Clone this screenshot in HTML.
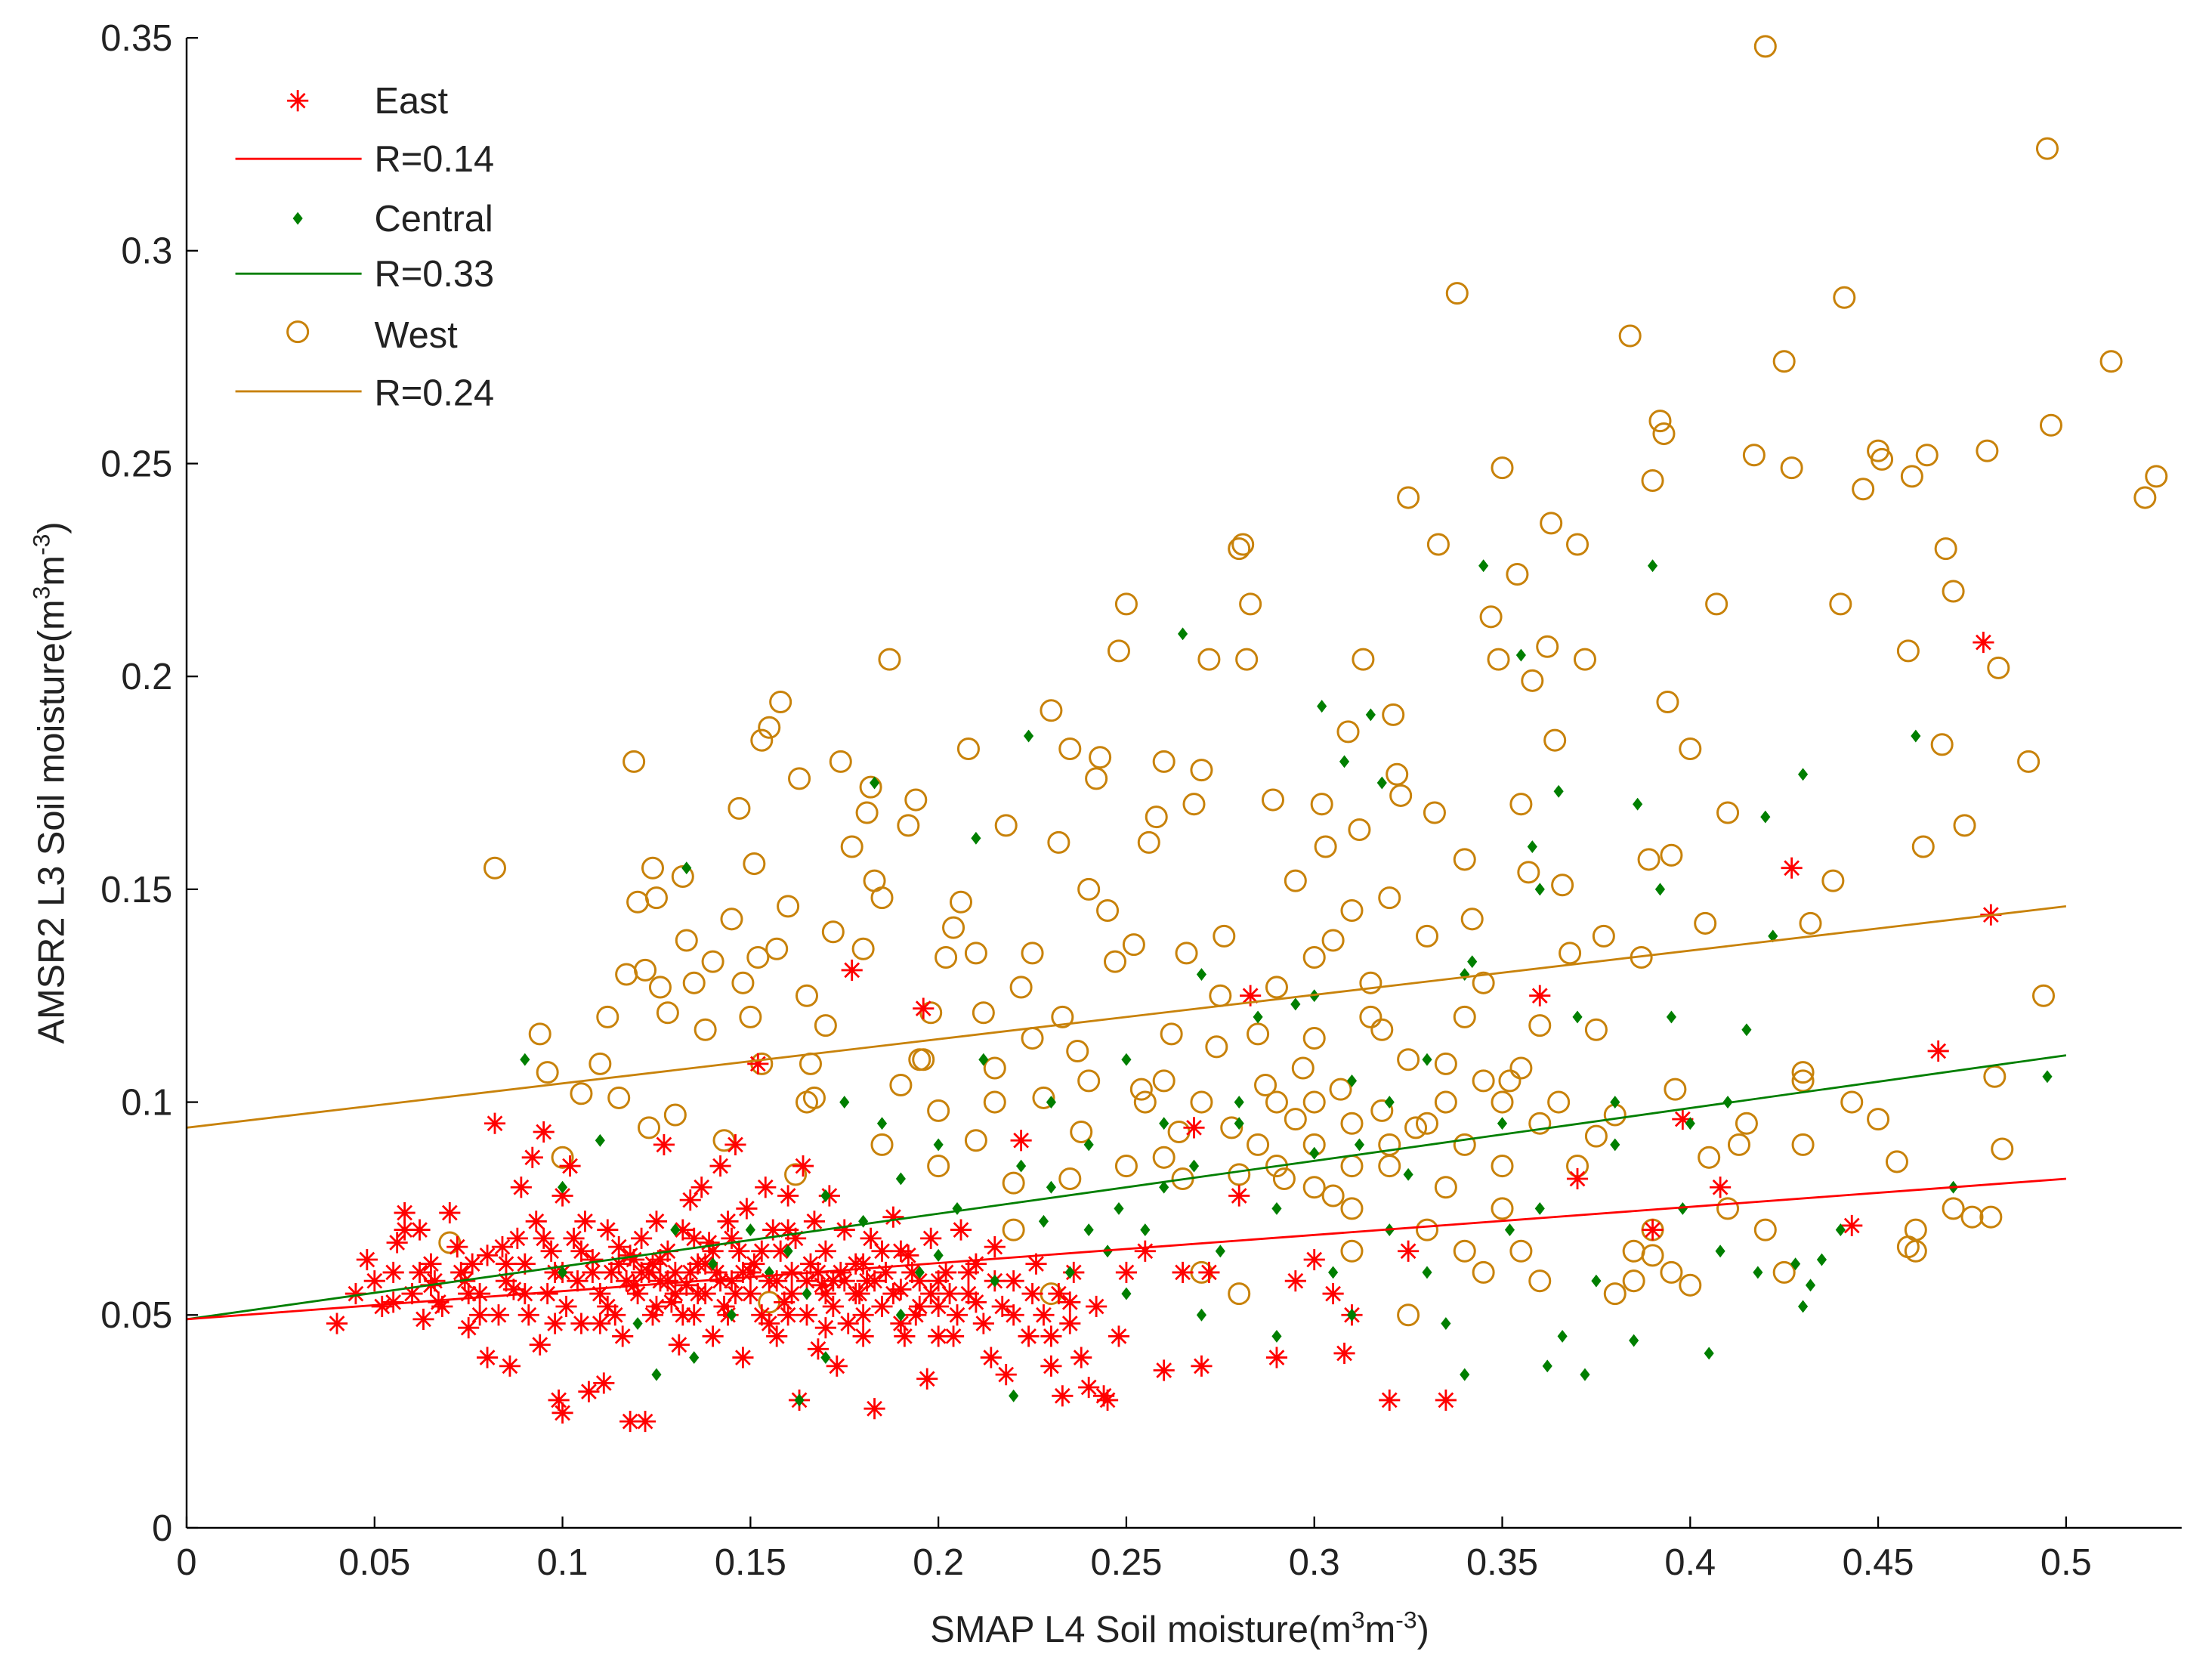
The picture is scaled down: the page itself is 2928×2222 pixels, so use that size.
<!DOCTYPE html>
<html><head><meta charset="utf-8"><style>
html,body{margin:0;padding:0;background:#fff;}
svg{display:block;}
text{font-family:"Liberation Sans",Arial,sans-serif;fill:#222;}
</style></head><body>
<svg id="chart" width="2928" height="2222" viewBox="0 0 1560 1184" preserveAspectRatio="none" xmlns="http://www.w3.org/2000/svg">
<g id="marks"></g>
<g id="axes"></g>
</svg>
<script>
const xTicks=[0,0.05,0.1,0.15,0.2,0.25,0.3,0.35,0.4,0.45,0.5];
const xTickLabels=["0","0.05","0.1","0.15","0.2","0.25","0.3","0.35","0.4","0.45","0.5"];
const yTicks=[0,0.05,0.1,0.15,0.2,0.25,0.3,0.35];
const yTickLabels=["0","0.05","0.1","0.15","0.2","0.25","0.3","0.35"];
const westPts=[[0.082,0.155],[0.094,0.116],[0.096,0.107],[0.1,0.087],[0.105,0.102],[0.11,0.109],[0.112,0.12],[0.115,0.101],[0.117,0.13],[0.119,0.18],[0.12,0.147],[0.122,0.131],[0.123,0.094],[0.124,0.155],[0.125,0.148],[0.126,0.127],[0.128,0.121],[0.13,0.097],[0.132,0.153],[0.133,0.138],[0.135,0.128],[0.138,0.117],[0.14,0.133],[0.143,0.091],[0.145,0.143],[0.147,0.169],[0.148,0.128],[0.15,0.12],[0.151,0.156],[0.152,0.134],[0.153,0.109],[0.153,0.185],[0.155,0.188],[0.157,0.136],[0.158,0.194],[0.16,0.146],[0.162,0.083],[0.163,0.176],[0.165,0.125],[0.166,0.109],[0.167,0.101],[0.17,0.118],[0.172,0.14],[0.174,0.18],[0.177,0.16],[0.18,0.136],[0.181,0.168],[0.182,0.174],[0.183,0.152],[0.185,0.148],[0.187,0.204],[0.19,0.104],[0.192,0.165],[0.194,0.171],[0.196,0.11],[0.198,0.121],[0.2,0.098],[0.202,0.134],[0.204,0.141],[0.206,0.147],[0.208,0.183],[0.21,0.091],[0.212,0.121],[0.215,0.108],[0.218,0.165],[0.22,0.081],[0.222,0.127],[0.225,0.135],[0.228,0.101],[0.23,0.192],[0.232,0.161],[0.233,0.12],[0.235,0.183],[0.237,0.112],[0.238,0.093],[0.24,0.15],[0.242,0.176],[0.243,0.181],[0.245,0.145],[0.247,0.133],[0.248,0.206],[0.25,0.217],[0.252,0.137],[0.254,0.103],[0.256,0.161],[0.258,0.167],[0.26,0.18],[0.262,0.116],[0.264,0.093],[0.266,0.135],[0.268,0.17],[0.27,0.178],[0.272,0.204],[0.274,0.113],[0.276,0.139],[0.278,0.094],[0.28,0.23],[0.281,0.231],[0.282,0.204],[0.283,0.217],[0.285,0.116],[0.287,0.104],[0.289,0.171],[0.29,0.127],[0.292,0.082],[0.295,0.152],[0.297,0.108],[0.3,0.134],[0.302,0.17],[0.303,0.16],[0.305,0.138],[0.307,0.103],[0.309,0.187],[0.31,0.145],[0.312,0.164],[0.313,0.204],[0.315,0.128],[0.318,0.117],[0.32,0.148],[0.321,0.191],[0.322,0.177],[0.323,0.172],[0.325,0.242],[0.327,0.094],[0.33,0.139],[0.332,0.168],[0.333,0.231],[0.335,0.109],[0.338,0.29],[0.34,0.157],[0.342,0.143],[0.345,0.128],[0.347,0.214],[0.349,0.204],[0.35,0.249],[0.352,0.105],[0.354,0.224],[0.355,0.17],[0.357,0.154],[0.358,0.199],[0.36,0.118],[0.362,0.207],[0.363,0.236],[0.364,0.185],[0.366,0.151],[0.368,0.135],[0.37,0.231],[0.372,0.204],[0.375,0.117],[0.377,0.139],[0.38,0.097],[0.384,0.28],[0.387,0.134],[0.389,0.157],[0.39,0.246],[0.392,0.26],[0.393,0.257],[0.394,0.194],[0.395,0.158],[0.396,0.103],[0.4,0.183],[0.404,0.142],[0.407,0.217],[0.41,0.168],[0.413,0.09],[0.417,0.252],[0.42,0.348],[0.425,0.274],[0.427,0.249],[0.43,0.107],[0.432,0.142],[0.438,0.152],[0.44,0.217],[0.441,0.289],[0.443,0.1],[0.446,0.244],[0.45,0.253],[0.451,0.251],[0.455,0.086],[0.458,0.206],[0.459,0.247],[0.462,0.16],[0.463,0.252],[0.467,0.184],[0.468,0.23],[0.47,0.22],[0.473,0.165],[0.475,0.073],[0.479,0.253],[0.481,0.106],[0.482,0.202],[0.483,0.089],[0.49,0.18],[0.494,0.125],[0.495,0.324],[0.496,0.259],[0.512,0.274],[0.521,0.242],[0.524,0.247],
[0.22,0.07],[0.23,0.055],[0.25,0.085],[0.26,0.105],[0.27,0.06],[0.28,0.055],[0.29,0.085],[0.3,0.09],[0.31,0.065],[0.31,0.075],[0.32,0.085],[0.325,0.05],[0.33,0.07],[0.335,0.1],[0.34,0.09],[0.345,0.06],[0.35,0.085],[0.355,0.065],[0.36,0.058],[0.37,0.085],[0.38,0.055],[0.385,0.065],[0.39,0.07],[0.395,0.06],[0.4,0.057],[0.41,0.075],[0.42,0.07],[0.425,0.06],[0.43,0.09],[0.46,0.07],[0.46,0.065],[0.47,0.075],[0.48,0.073],[0.155,0.053],[0.2,0.085],[0.24,0.105],[0.29,0.1],[0.3,0.115],[0.34,0.12],[0.35,0.1],[0.36,0.095],[0.275,0.125],[0.315,0.12],[0.21,0.135],[0.185,0.09],[0.195,0.11],[0.165,0.1],[0.07,0.067],[0.255,0.1],[0.265,0.082],[0.285,0.09],[0.3,0.1],[0.305,0.078],[0.318,0.098],[0.325,0.11],[0.335,0.08],[0.345,0.105],[0.355,0.108],[0.365,0.1],[0.375,0.092],[0.385,0.058],[0.39,0.064],[0.405,0.087],[0.415,0.095],[0.43,0.105],[0.45,0.096],[0.458,0.066],[0.215,0.1],[0.225,0.115],[0.235,0.082],[0.26,0.087],[0.27,0.1],[0.28,0.083],[0.295,0.096],[0.31,0.095],[0.3,0.08],[0.32,0.09],[0.33,0.095],[0.34,0.065],[0.35,0.075],[0.31,0.085]];
const centralPts=[[0.09,0.11],[0.1,0.08],[0.1,0.06],[0.11,0.091],[0.12,0.048],[0.125,0.036],[0.13,0.07],[0.133,0.155],[0.135,0.04],[0.14,0.062],[0.145,0.05],[0.15,0.07],[0.155,0.06],[0.16,0.065],[0.163,0.03],[0.165,0.055],[0.17,0.078],[0.175,0.1],[0.18,0.072],[0.183,0.175],[0.185,0.095],[0.19,0.082],[0.195,0.06],[0.2,0.09],[0.205,0.075],[0.21,0.162],[0.212,0.11],[0.215,0.058],[0.22,0.031],[0.222,0.085],[0.224,0.186],[0.228,0.072],[0.23,0.1],[0.235,0.06],[0.24,0.09],[0.245,0.065],[0.248,0.075],[0.25,0.11],[0.255,0.07],[0.26,0.095],[0.265,0.21],[0.268,0.085],[0.27,0.13],[0.275,0.065],[0.28,0.095],[0.285,0.12],[0.29,0.075],[0.295,0.123],[0.3,0.088],[0.302,0.193],[0.305,0.06],[0.308,0.18],[0.31,0.105],[0.312,0.09],[0.315,0.191],[0.318,0.175],[0.32,0.07],[0.325,0.083],[0.33,0.11],[0.335,0.048],[0.34,0.036],[0.342,0.133],[0.345,0.226],[0.35,0.095],[0.352,0.07],[0.355,0.205],[0.358,0.16],[0.36,0.075],[0.362,0.038],[0.365,0.173],[0.366,0.045],[0.37,0.12],[0.372,0.036],[0.375,0.058],[0.38,0.1],[0.385,0.044],[0.386,0.17],[0.39,0.226],[0.392,0.15],[0.395,0.12],[0.398,0.075],[0.4,0.095],[0.405,0.041],[0.408,0.065],[0.41,0.1],[0.415,0.117],[0.418,0.06],[0.42,0.167],[0.422,0.139],[0.428,0.062],[0.43,0.177],[0.432,0.057],[0.435,0.063],[0.44,0.07],[0.46,0.186],[0.47,0.08],[0.495,0.106],[0.43,0.052],[0.25,0.055],[0.19,0.05],[0.17,0.04],[0.2,0.064],[0.23,0.08],[0.27,0.05],[0.29,0.045],[0.31,0.05],[0.33,0.06],[0.28,0.1],[0.3,0.125],[0.32,0.1],[0.34,0.13],[0.36,0.15],[0.38,0.09],[0.26,0.08],[0.24,0.07]];
const eastPts=[[0.04,0.048],[0.045,0.055],[0.048,0.063],[0.05,0.058],[0.052,0.052],[0.055,0.06],[0.056,0.067],[0.058,0.074],[0.06,0.055],[0.062,0.07],[0.063,0.049],[0.065,0.062],[0.066,0.058],[0.068,0.052],[0.07,0.074],[0.072,0.066],[0.074,0.058],[0.075,0.047],[0.076,0.062],[0.078,0.055],[0.08,0.064],[0.08,0.04],[0.082,0.095],[0.083,0.05],[0.085,0.058],[0.086,0.038],[0.088,0.068],[0.089,0.08],[0.09,0.062],[0.091,0.05],[0.092,0.087],[0.093,0.072],[0.094,0.043],[0.095,0.093],[0.096,0.055],[0.097,0.065],[0.098,0.06],[0.099,0.03],[0.1,0.027],[0.1,0.078],[0.101,0.052],[0.102,0.085],[0.103,0.068],[0.104,0.058],[0.105,0.048],[0.106,0.072],[0.107,0.032],[0.108,0.063],[0.11,0.055],[0.111,0.034],[0.112,0.07],[0.113,0.06],[0.114,0.05],[0.115,0.066],[0.116,0.045],[0.117,0.058],[0.118,0.025],[0.119,0.063],[0.12,0.055],[0.121,0.068],[0.122,0.025],[0.123,0.06],[0.124,0.05],[0.125,0.072],[0.126,0.058],[0.127,0.09],[0.128,0.065],[0.129,0.053],[0.13,0.06],[0.131,0.043],[0.132,0.07],[0.133,0.057],[0.134,0.077],[0.135,0.05],[0.136,0.062],[0.137,0.08],[0.138,0.055],[0.139,0.067],[0.14,0.045],[0.141,0.06],[0.142,0.085],[0.143,0.052],[0.144,0.072],[0.145,0.058],[0.146,0.09],[0.147,0.065],[0.148,0.04],[0.149,0.075],[0.15,0.055],[0.151,0.062],[0.152,0.109],[0.153,0.05],[0.154,0.08],[0.155,0.058],[0.156,0.07],[0.157,0.045],[0.158,0.065],[0.159,0.053],[0.16,0.078],[0.161,0.06],[0.162,0.068],[0.163,0.03],[0.164,0.085],[0.165,0.05],[0.166,0.062],[0.167,0.072],[0.168,0.042],[0.169,0.057],[0.17,0.065],[0.171,0.078],[0.172,0.052],[0.173,0.038],[0.174,0.06],[0.175,0.07],[0.176,0.048],[0.177,0.131],[0.178,0.062],[0.179,0.055],[0.18,0.045],[0.181,0.058],[0.182,0.068],[0.183,0.028],[0.185,0.052],[0.186,0.06],[0.188,0.073],[0.19,0.056],[0.191,0.045],[0.192,0.064],[0.194,0.05],[0.195,0.058],[0.196,0.122],[0.197,0.035],[0.198,0.068],[0.2,0.052],[0.202,0.06],[0.204,0.045],[0.206,0.07],[0.208,0.055],[0.21,0.062],[0.212,0.048],[0.214,0.04],[0.215,0.066],[0.217,0.052],[0.218,0.036],[0.22,0.058],[0.222,0.091],[0.224,0.045],[0.226,0.062],[0.228,0.05],[0.23,0.038],[0.232,0.055],[0.233,0.031],[0.235,0.048],[0.236,0.06],[0.238,0.04],[0.24,0.033],[0.242,0.052],[0.244,0.031],[0.245,0.03],[0.248,0.045],[0.25,0.06],[0.255,0.065],[0.26,0.037],[0.265,0.06],[0.268,0.094],[0.27,0.038],[0.272,0.06],[0.28,0.078],[0.283,0.125],[0.29,0.04],[0.295,0.058],[0.3,0.063],[0.305,0.055],[0.308,0.041],[0.31,0.05],[0.32,0.03],[0.325,0.065],[0.335,0.03],[0.36,0.125],[0.37,0.082],[0.39,0.07],[0.398,0.096],[0.408,0.08],[0.427,0.155],[0.443,0.071],[0.466,0.112],[0.478,0.208],[0.48,0.144],[0.058,0.07],[0.062,0.06],[0.067,0.053],[0.073,0.06],[0.078,0.05],[0.084,0.066],[0.087,0.056],[0.095,0.068],[0.098,0.048],[0.108,0.06],[0.112,0.052],[0.118,0.064],[0.124,0.062],[0.128,0.058],[0.132,0.05],[0.136,0.055],[0.14,0.065],[0.144,0.05],[0.148,0.06],[0.155,0.048],[0.16,0.05],[0.165,0.058],[0.17,0.055],[0.175,0.058],[0.18,0.05],[0.185,0.065],[0.19,0.048],[0.195,0.052],[0.2,0.058],[0.205,0.05],[0.21,0.053],[0.215,0.058],[0.22,0.05],[0.225,0.055],[0.23,0.045],[0.235,0.053],[0.115,0.062],[0.119,0.057],[0.121,0.06],[0.126,0.063],[0.13,0.055],[0.134,0.06],[0.138,0.062],[0.142,0.058],[0.146,0.055],[0.15,0.06],[0.153,0.065],[0.157,0.058],[0.161,0.055],[0.168,0.06],[0.172,0.058],[0.178,0.055],[0.183,0.058],[0.188,0.055],[0.193,0.06],[0.198,0.055],[0.203,0.055],[0.208,0.06],[0.1,0.06],[0.105,0.065],[0.09,0.055],[0.085,0.062],[0.075,0.055],[0.065,0.057],[0.055,0.053],[0.135,0.068],[0.145,0.068],[0.16,0.07],[0.17,0.047],[0.18,0.062],[0.19,0.065],[0.2,0.045],[0.125,0.052],[0.11,0.048]];
const lineX=[0,0.5];
const eastFit=[0.049,0.082];
const centralFit=[0.049,0.111];
const westFit=[0.094,0.146];

const NS="http://www.w3.org/2000/svg";
const X0=131.6,XW=2651,Y0=1077.4,YH=3002;
const sx=v=>X0+v*XW, sy=v=>Y0-v*YH;
const WEST="#C8820A",GREEN="#007F00",RED="#FF0000";
function mk(tag,attrs,parent){const e=document.createElementNS(NS,tag);for(const k in attrs)e.setAttribute(k,attrs[k]);parent.appendChild(e);return e;}
const marks=document.getElementById('marks'),axes=document.getElementById('axes');

function circle(x,y,parent){return mk('circle',{cx:x,cy:y,r:7.2,fill:'none',stroke:WEST,'stroke-width':1.6},parent);}
function dot(x,y,parent){return mk('path',{d:`M${x} ${y-4.5}L${x+3.5} ${y}L${x} ${y+4.5}L${x-3.5} ${y}Z`,fill:GREEN},parent);}
function star(x,y,parent){const r=7.5,d=5;return mk('path',{d:`M${x-r} ${y}H${x+r}M${x} ${y-r}V${y+r}M${x-d} ${y-d}L${x+d} ${y+d}M${x-d} ${y+d}L${x+d} ${y-d}`,stroke:RED,'stroke-width':1.5,fill:'none'},parent);}

const gW=mk('g',{},marks);


westPts.forEach(p=>{const e=circle(sx(p[0]),sy(p[1]),gW);

});
const gE=mk('g',{},marks);


eastPts.forEach(p=>{const e=star(sx(p[0]),sy(p[1]),gE);

});
const gC=mk('g',{},marks);


centralPts.forEach(p=>{const e=dot(sx(p[0]),sy(p[1]),gC);

});

const fits=[[westFit,WEST,'west-fit-line'],[centralFit,GREEN,'central-fit-line'],[eastFit,RED,'east-fit-line']];
fits.forEach(f=>{const e=mk('line',{x1:sx(lineX[0]),y1:sy(f[0][0]),x2:sx(lineX[1]),y2:sy(f[0][1]),stroke:f[1],'stroke-width':1.5},marks);

});

const xa=mk('line',{x1:X0,y1:Y0,x2:1538.6,y2:Y0,stroke:'#000','stroke-width':1.3},axes);


const ya=mk('line',{x1:X0,y1:Y0,x2:X0,y2:sy(0.35),stroke:'#000','stroke-width':1.3},axes);


xTicks.forEach((v,i)=>{mk('line',{x1:sx(v),y1:Y0,x2:sx(v),y2:Y0-8,stroke:'#000','stroke-width':1.2},axes);
const t=mk('text',{x:sx(v),y:Y0+33,'text-anchor':'middle','font-size':26},axes);t.textContent=xTickLabels[i];

});
yTicks.forEach((v,i)=>{mk('line',{x1:X0,y1:sy(v),x2:X0+8,y2:sy(v),stroke:'#000','stroke-width':1.2},axes);
const t=mk('text',{x:X0-10,y:sy(v)+9,'text-anchor':'end','font-size':26},axes);t.textContent=yTickLabels[i];

});
</script>
<svg style="position:absolute;left:0;top:0" width="2928" height="2222" viewBox="0 0 1560 1184" preserveAspectRatio="none" xmlns="http://www.w3.org/2000/svg">
<text x="832" y="1158" text-anchor="middle" font-size="26">SMAP L4 Soil moisture(m<tspan font-size="17" dy="-10">3</tspan><tspan dy="10">m</tspan><tspan font-size="17" dy="-10">-3</tspan><tspan dy="10">)</tspan></text>
<text transform="translate(45,552) rotate(-90)" text-anchor="middle" font-size="26">AMSR2 L3 Soil moisture(m<tspan font-size="17" dy="-10">3</tspan><tspan dy="10">m</tspan><tspan font-size="17" dy="-10">-3</tspan><tspan dy="10">)</tspan></text>
<g>
<g><path d="M202.5 71H217.5M210 63.5V78.5M205 66L215 76M205 76L215 66" stroke="#FF0000" stroke-width="1.5"/><text x="264" y="80" font-size="26">East</text></g>
<g><line x1="166" y1="112" x2="255" y2="112" stroke="#FF0000" stroke-width="1.5"/><text x="264" y="121" font-size="26">R=0.14</text></g>
<g><path d="M210 149.5L213.5 154L210 158.5L206.5 154Z" fill="#007F00"/><text x="264" y="163" font-size="26">Central</text></g>
<g><line x1="166" y1="193" x2="255" y2="193" stroke="#007F00" stroke-width="1.5"/><text x="264" y="202" font-size="26">R=0.33</text></g>
<g><circle cx="210" cy="234" r="7.2" fill="none" stroke="#C8820A" stroke-width="1.6"/><text x="264" y="245" font-size="26">West</text></g>
<g><line x1="166" y1="276" x2="255" y2="276" stroke="#C8820A" stroke-width="1.5"/><text x="264" y="286" font-size="26">R=0.24</text></g>
</g>
</svg>
</body></html>
